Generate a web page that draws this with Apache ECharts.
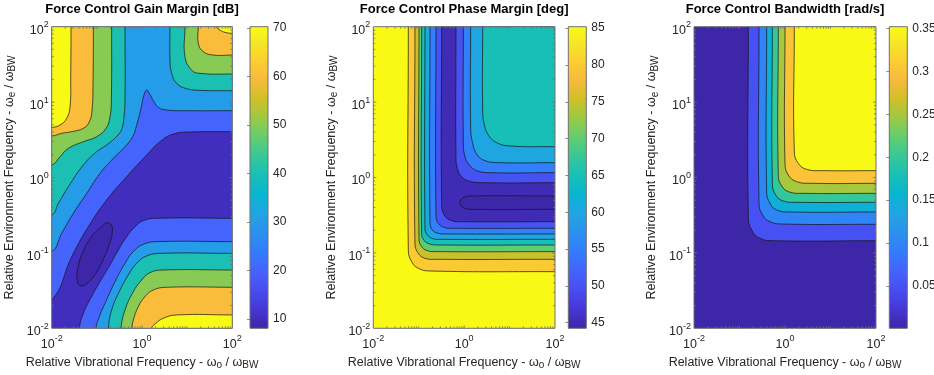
<!DOCTYPE html>
<html>
<head>
<meta charset="utf-8">
<title>Force control margins</title>
<script src="https://cdn.jsdelivr.net/npm/echarts@6.0.0/dist/echarts.min.js"></script>
<style>
  html, body { margin: 0; padding: 0; background: #fff; }
  #chart-container { width: 934px; height: 375px; }
</style>
</head>
<body>
<div id="chart-container"></div>
<script>
var dom = document.getElementById('chart-container');
var myChart = echarts.init(dom, null, { renderer: 'canvas' });

// contour lines, points are [log10(wo/wBW), log10(we/wBW)]

// Force Control Gain Margin [dB]
var gmRange = [8.1, 70.3];
var gmTicks = [10, 20, 30, 40, 50, 60, 70];
var gmBase = 10;
var gmL10 = [[-0.679, -0.630], [-0.657, -0.718], [-0.716, -0.873], [-0.863, -1.094], [-1.048, -1.293], [-1.232, -1.412], [-1.380, -1.434], [-1.439, -1.359], [-1.417, -1.182], [-1.306, -0.983], [-1.122, -0.785], [-0.900, -0.652], [-0.768, -0.599]];
var gmL20a = [[2, 0.608], [1.063, 0.603], [0.694, 0.577], [0.399, 0.475], [0.103, 0.298], [-0.339, 0.011], [-0.782, -0.298], [-1.188, -0.652], [-1.557, -1.050], [-2, -1.624]];
var gmL20b = [[2, -0.541], [0.325, -0.541], [0.030, -0.572], [-0.155, -0.652], [-0.339, -0.785], [-0.524, -0.961], [-0.708, -1.160], [-0.930, -1.381], [-1.137, -1.602], [-1.299, -1.801], [-1.387, -2]];
var gmL30a = [[2, 0.886], [0.989, 0.886], [0.546, 0.895], [0.362, 0.930], [0.251, 1.019], [0.162, 1.116], [0.103, 1.160], [0.044, 1.094], [-0.030, 0.895], [-0.118, 0.696], [-0.207, 0.541], [-0.376, 0.409], [-0.635, 0.254], [-0.930, 0.055], [-1.225, -0.210], [-1.520, -0.475], [-1.779, -0.740], [-2, -0.983]];
var gmL30b = [[2, -0.851], [0.325, -0.851], [0.030, -0.886], [-0.192, -0.983], [-0.376, -1.138], [-0.598, -1.381], [-0.819, -1.668], [-0.930, -1.823], [-1.018, -2]];
var gmL40a = [[-0.376, 2], [-0.376, 1.028], [-0.399, 0.807], [-0.443, 0.652], [-0.531, 0.564], [-0.782, 0.431], [-1.004, 0.343], [-1.299, 0.166], [-1.631, -0.122], [-1.852, -0.343], [-2, -0.497]];
var gmL40b = [[0.620, 2], [0.620, 1.558], [0.657, 1.381], [0.768, 1.249], [0.989, 1.178], [1.284, 1.156], [2, 1.151]];
var gmL40c = [[2, -1.006], [0.399, -1.006], [0.103, -1.041], [-0.118, -1.138], [-0.303, -1.293], [-0.487, -1.492], [-0.672, -1.757], [-0.745, -2]];
var gmL50a = [[-0.672, 2], [-0.679, 1.028], [-0.708, 0.807], [-0.797, 0.652], [-1.004, 0.541], [-1.299, 0.475], [-1.631, 0.387], [-1.815, 0.276], [-2, 0.166]];
var gmL50b = [[0.952, 2], [0.952, 1.602], [1.100, 1.425], [1.284, 1.381], [2, 1.372]];
var gmL50c = [[2, -1.227], [0.472, -1.227], [0.177, -1.262], [-0.007, -1.359], [-0.192, -1.514], [-0.376, -1.757], [-0.465, -2]];
var gmL60a = [[-1.077, 2], [-1.085, 1.249], [-1.107, 0.895], [-1.166, 0.740], [-1.299, 0.652], [-1.557, 0.608], [-1.779, 0.586], [-2, 0.550]];
var gmL60b = [[1.247, 2], [1.247, 1.779], [1.358, 1.669], [1.579, 1.624], [2, 1.624]];
var gmL60c = [[2, -1.456], [0.546, -1.456], [0.251, -1.492], [0.066, -1.580], [-0.081, -1.713], [-0.192, -1.890], [-0.221, -2]];
var gmL70a = [[-1.572, 2], [-1.579, 1.337], [-1.594, 0.939], [-1.668, 0.785], [-1.815, 0.696], [-2, 0.665]];
var gmL70b = [[1.653, 2], [1.727, 1.956], [1.838, 1.925], [2, 1.912]];
var gmL70c = [[2, -1.823], [0.768, -1.823], [0.472, -1.867], [0.288, -1.943], [0.214, -2]];

// Force Control Phase Margin [deg]
var pmRange = [44.24, 85.2];
var pmTicks = [45, 50, 55, 60, 65, 70, 75, 80, 85];
var pmBase = 85;
var pmL85 = [[-1.229, 2], [-1.229, -0.961], [-1.156, -1.116], [-1.009, -1.204], [-0.752, -1.240], [2, -1.249]];
var pmL80 = [[-1.083, 2], [-1.083, -0.873], [-1.009, -1.006], [-0.862, -1.072], [-0.606, -1.085], [2, -1.085]];
var pmL75 = [[-0.994, 2], [-0.994, -0.807], [-0.936, -0.917], [-0.811, -0.970], [-0.606, -0.983], [2, -0.983]];
var pmL70 = [[-0.936, 2], [-0.936, -0.740], [-0.877, -0.838], [-0.752, -0.882], [-0.569, -0.895], [2, -0.895]];
var pmL65a = [[-0.862, 2], [-0.862, -0.674], [-0.811, -0.762], [-0.694, -0.811], [-0.532, -0.820], [2, -0.820]];
var pmL60a = [[-0.752, 2], [-0.752, -0.586], [-0.701, -0.696], [-0.569, -0.740], [-0.385, -0.749], [2, -0.749]];
var pmL55a = [[-0.620, 2], [-0.620, -0.497], [-0.569, -0.608], [-0.422, -0.665], [-0.239, -0.674], [2, -0.674]];
var pmL50a = [[-0.495, 2], [-0.495, -0.343], [-0.437, -0.497], [-0.275, -0.572], [-0.018, -0.586], [2, -0.586]];
var pmL50b = [[-0.180, 2], [-0.180, 0.276], [-0.150, 0.122], [-0.055, 0.011], [0.128, -0.051], [0.422, -0.069], [2, -0.069]];
var pmL55b = [[-0.018, 2], [-0.018, 0.453], [0.018, 0.276], [0.114, 0.166], [0.275, 0.091], [0.569, 0.064], [2, 0.064]];
var pmL60b = [[0.143, 2], [0.143, 0.674], [0.187, 0.453], [0.290, 0.298], [0.459, 0.223], [0.752, 0.197], [2, 0.197]];
var pmL65b = [[0.407, 2], [0.407, 0.895], [0.437, 0.718], [0.532, 0.564], [0.716, 0.462], [1.009, 0.418], [2, 0.409]];
var pmL45 = [[2, -0.245], [0.128, -0.245], [-0.004, -0.263], [-0.077, -0.298], [-0.092, -0.334], [-0.077, -0.369], [-0.004, -0.404], [0.128, -0.422], [2, -0.422]];

// Force Control Bandwidth [rad/s]
var bwRange = [0.0008, 0.352];
var bwTicks = [0.05, 0.1, 0.15, 0.2, 0.25, 0.3, 0.35];
var bwBase = 0.0008;
var bwL05 = [[-0.806, 2], [-0.806, -0.519], [-0.733, -0.696], [-0.549, -0.807], [-0.256, -0.838], [2, -0.838]];
var bwL10 = [[-0.571, 2], [-0.571, -0.343], [-0.491, -0.497], [-0.330, -0.586], [-0.037, -0.617], [2, -0.621]];
var bwL15 = [[-0.403, 2], [-0.403, -0.188], [-0.330, -0.343], [-0.183, -0.431], [0.110, -0.457], [2, -0.457]];
var bwL20 = [[-0.278, 2], [-0.278, -0.077], [-0.205, -0.232], [-0.037, -0.312], [0.256, -0.329], [2, -0.329]];
var bwL25 = [[-0.147, 2], [-0.147, 0.033], [-0.073, -0.113], [0.095, -0.192], [0.403, -0.210], [2, -0.210]];
var bwL30 = [[0, 2], [0, 0.188], [0.073, 0.033], [0.256, -0.055], [0.586, -0.077], [2, -0.077]];
var bwL35 = [[0.205, 2], [0.205, 0.343], [0.293, 0.188], [0.476, 0.108], [0.842, 0.091], [2, 0.091]];

// filled regions in painting order: [colour level, contour line, plot corners that close it]
var gmFill = [
  [20, gmL20a, ['tl', 'tr']], [20, gmL20b, ['br']],
  [30, gmL30a, ['tl', 'tr']], [30, gmL30b, ['br']],
  [40, gmL40a, ['tl']], [40, gmL40b, ['tr']], [40, gmL40c, ['br']],
  [50, gmL50a, ['tl']], [50, gmL50b, ['tr']], [50, gmL50c, ['br']],
  [60, gmL60a, ['tl']], [60, gmL60b, ['tr']], [60, gmL60c, ['br']],
  [70, gmL70a, ['tl']], [70, gmL70b, ['tr']], [70, gmL70c, ['br']],
  [8.1, gmL10, null]
];
var pmFill = [
  [80, pmL85, ['tr']], [75, pmL80, ['tr']], [70, pmL75, ['tr']], [65, pmL70, ['tr']],
  [60, pmL65a, ['tr']], [55, pmL60a, ['tr']], [50, pmL55a, ['tr']], [45, pmL50a, ['tr']],
  [50, pmL50b, ['tr']], [55, pmL55b, ['tr']], [60, pmL60b, ['tr']], [65, pmL65b, ['tr']],
  [44.24, pmL45, []]
];
var bwFill = [
  [0.05, bwL05, ['tr']], [0.1, bwL10, ['tr']], [0.15, bwL15, ['tr']], [0.2, bwL20, ['tr']],
  [0.25, bwL25, ['tr']], [0.3, bwL30, ['tr']], [0.35, bwL35, ['tr']]
];

var FF = '"Liberation Sans", Arial, Helvetica, sans-serif';
var TXT = '#262626';
var FRAME = '#707070';
var EXT = 20;
var SMOOTH = 0.45;
var TOP = 26.7, HEIGHT = 301.6, CBW = 18;

// parula colormap, every 4th of the 64 rows
var parula = [
  [0.2422, 0.1504, 0.6603], [0.2706, 0.2147, 0.8364], [0.2813, 0.3006, 0.9414], [0.2699, 0.3892, 0.9906],
  [0.1963, 0.4847, 0.9892], [0.1687, 0.5703, 0.9359], [0.1248, 0.6459, 0.8883], [0.0297, 0.7082, 0.8163],
  [0.0964, 0.7500, 0.7120], [0.2161, 0.7843, 0.5923], [0.3909, 0.8029, 0.4354], [0.6174, 0.7876, 0.2612],
  [0.8203, 0.7498, 0.1535], [0.9728, 0.7298, 0.2394], [0.9892, 0.8136, 0.1885], [0.9597, 0.9135, 0.1423],
  [0.9769, 0.9839, 0.0805]
];
var parulaRow = [0, 4, 8, 12, 16, 20, 24, 28, 32, 36, 40, 44, 48, 52, 56, 60, 63];

function rgb(c) {
  return 'rgb(' + Math.round(c[0] * 255) + ',' + Math.round(c[1] * 255) + ',' + Math.round(c[2] * 255) + ')';
}
function parulaAt(t) {
  t = Math.max(0, Math.min(1, t)) * 63;
  for (var i = 1; i < parulaRow.length; i++) {
    if (t <= parulaRow[i]) {
      var f = (t - parulaRow[i - 1]) / (parulaRow[i] - parulaRow[i - 1]);
      var a = parula[i - 1], b = parula[i];
      return rgb([a[0] + (b[0] - a[0]) * f, a[1] + (b[1] - a[1]) * f, a[2] + (b[2] - a[2]) * f]);
    }
  }
  return rgb(parula[parula.length - 1]);
}
var gradStops = parula.map(function (c, i) { return { offset: parulaRow[i] / 63, color: rgb(c) }; });

var panels = [
  { title: 'Force Control Gain Margin [dB]', left: 51.7, width: 180.6, cbLeft: 250, range: gmRange, ticks: gmTicks, base: gmBase, fill: gmFill },
  { title: 'Force Control Phase Margin [deg]', left: 373.3, width: 181.7, cbLeft: 568.3, range: pmRange, ticks: pmTicks, base: pmBase, fill: pmFill },
  { title: 'Force Control Bandwidth [rad/s]', left: 694, width: 182, cbLeft: 889.3, range: bwRange, ticks: bwTicks, base: bwBase, fill: bwFill }
];

function colorOf(p, v) { return parulaAt((v - p.range[0]) / (p.range[1] - p.range[0])); }
function clipOf(cs) { return { type: 'rect', shape: { x: cs.x, y: cs.y, width: cs.width, height: cs.height } }; }
function corner(cs, c) {
  return [c.charAt(1) === 'l' ? cs.x - EXT : cs.x + cs.width + EXT,
          c.charAt(0) === 't' ? cs.y - EXT : cs.y + cs.height + EXT];
}
function outward(d, p) {
  if (d[1] >= 2) return [p[0], p[1] - EXT];
  if (d[1] <= -2) return [p[0], p[1] + EXT];
  if (d[0] <= -2) return [p[0] - EXT, p[1]];
  return [p[0] + EXT, p[1]];
}
function linePoints(curve, api) {
  var pts = curve.map(function (d) { return api.coord(d); });
  return [outward(curve[0], pts[0])].concat(pts, [outward(curve[curve.length - 1], pts[pts.length - 1])]);
}

function fillRender(p) {
  return function (params, api) {
    var cs = params.coordSys;
    if (params.dataIndex === 0) {
      return { type: 'rect', shape: { x: cs.x, y: cs.y, width: cs.width, height: cs.height }, style: { fill: colorOf(p, p.base) } };
    }
    var r = p.fill[params.dataIndex - 1];
    var pts = r[2]
      ? linePoints(r[1], api).concat(r[2].map(function (c) { return corner(cs, c); }))
      : r[1].map(function (d) { return api.coord(d); });
    return { type: 'polygon', shape: { points: pts, smooth: SMOOTH }, style: { fill: colorOf(p, r[0]) }, clipPath: clipOf(cs) };
  };
}
function lineRender(p) {
  return function (params, api) {
    var cs = params.coordSys;
    var r = p.fill[params.dataIndex];
    var st = { fill: null, stroke: '#141414', lineWidth: 0.7 };
    if (r[2]) {
      return { type: 'polyline', shape: { points: linePoints(r[1], api), smooth: SMOOTH }, style: st, clipPath: clipOf(cs) };
    }
    return { type: 'polygon', shape: { points: r[1].map(function (d) { return api.coord(d); }), smooth: SMOOTH }, style: st };
  };
}

// axis frame: box, decade ticks and log minor ticks on all four sides
var minorPos = [];
[-2, -1, 0, 1].forEach(function (n) { for (var k = 2; k <= 9; k++) minorPos.push(n + Math.log10(k)); });
var frameTicks = [['box']];
[0].forEach(function (v) { frameTicks.push(['x', v, 3]); });
[-1, 1].concat(minorPos).forEach(function (v) { frameTicks.push(['x', v, 2]); });
[-1, 0, 1].forEach(function (v) { frameTicks.push(['y', v, 3]); });
minorPos.forEach(function (v) { frameTicks.push(['y', v, 2]); });

function frameRender(params, api) {
  var cs = params.coordSys;
  var t = frameTicks[params.dataIndex];
  var st = { stroke: FRAME, lineWidth: 0.8 };
  if (t[0] === 'box') {
    return { type: 'rect', shape: { x: cs.x, y: cs.y, width: cs.width, height: cs.height }, style: { fill: null, stroke: FRAME, lineWidth: 1 } };
  }
  var a, b;
  if (t[0] === 'x') {
    a = api.coord([t[1], -2]); b = api.coord([t[1], 2]);
    return { type: 'group', children: [
      { type: 'line', shape: { x1: a[0], y1: a[1], x2: a[0], y2: a[1] - t[2] }, style: st },
      { type: 'line', shape: { x1: b[0], y1: b[1], x2: b[0], y2: b[1] + t[2] }, style: st }
    ] };
  }
  a = api.coord([-2, t[1]]); b = api.coord([2, t[1]]);
  return { type: 'group', children: [
    { type: 'line', shape: { x1: a[0], y1: a[1], x2: a[0] + t[2], y2: a[1] }, style: st },
    { type: 'line', shape: { x1: b[0], y1: b[1], x2: b[0] - t[2], y2: b[1] }, style: st }
  ] };
}
function cbRender(p) {
  return function (params, api) {
    var a = api.coord([0, p.range[1]]), b = api.coord([1, p.range[0]]);
    var shape = { x: a[0], y: a[1], width: b[0] - a[0], height: b[1] - a[1] };
    return { type: 'group', children: [
      { type: 'rect', shape: shape, style: { fill: { type: 'linear', x: 0, y: 1, x2: 0, y2: 0, colorStops: gradStops } } },
      { type: 'rect', shape: shape, style: { fill: null, stroke: FRAME, lineWidth: 1 } }
    ] };
  };
}

var powRich = {
  b: { fontSize: 12.5, lineHeight: 20, color: TXT, fontFamily: FF },
  s: { fontSize: 9, lineHeight: 13, verticalAlign: 'top', color: TXT, fontFamily: FF }
};
function pow(v) { return '{b|10}{s|' + v + '}'; }
var nameRich = {
  t: { fontSize: 12.5, lineHeight: 14, padding: [0, 0, 2, 0], color: TXT, fontFamily: FF },
  u: { fontSize: 10, lineHeight: 10, verticalAlign: 'bottom', color: TXT, fontFamily: FF }
};
var xName = '{t|Relative Vibrational Frequency - ω}{u|o}{t| / ω}{u|BW}';
var yName = '{t|Relative Environment Frequency - ω}{u|e}{t| / ω}{u|BW}';

var grid = [], xAxis = [], yAxis = [], series = [], graphic = [];
panels.forEach(function (p, i) {
  var g = 2 * i, c = 2 * i + 1;
  grid.push({ left: p.left, top: TOP, width: p.width, height: HEIGHT, outerBoundsMode: 'none' });
  grid.push({ left: p.cbLeft, top: TOP, width: CBW, height: HEIGHT, outerBoundsMode: 'none' });
  xAxis.push({
    gridIndex: g, type: 'value', min: -2, max: 2, interval: 2, z: 10,
    axisLine: { show: false }, axisTick: { show: false }, splitLine: { show: false },
    axisLabel: { margin: 6, formatter: pow, rich: powRich },
    name: xName, nameLocation: 'middle', nameGap: 25, nameTextStyle: { rich: nameRich }
  });
  xAxis.push({ gridIndex: c, type: 'value', min: 0, max: 1, show: false });
  yAxis.push({
    gridIndex: g, type: 'value', min: -2, max: 2, interval: 1, z: 10,
    axisLine: { show: false }, axisTick: { show: false }, splitLine: { show: false },
    axisLabel: { margin: 3, padding: [7, 0, 0, 0], formatter: pow, rich: powRich },
    name: yName, nameLocation: 'middle', nameGap: 34, nameTextStyle: { rich: nameRich }
  });
  yAxis.push({
    gridIndex: c, type: 'value', min: p.range[0], max: p.range[1], position: 'right', z: 10,
    axisLine: { show: false }, splitLine: { show: false },
    axisTick: { show: true, inside: true, length: 3, customValues: p.ticks, lineStyle: { color: FRAME, width: 0.8 } },
    axisLabel: { customValues: p.ticks, margin: 5, fontSize: 12, color: TXT, fontFamily: FF }
  });
  series.push({
    type: 'custom', xAxisIndex: g, yAxisIndex: g, silent: true, z: 2,
    data: [[0, 0]].concat(p.fill.map(function () { return [0, 0]; })), renderItem: fillRender(p)
  });
  series.push({
    type: 'custom', xAxisIndex: g, yAxisIndex: g, silent: true, z: 3,
    data: p.fill.map(function () { return [0, 0]; }), renderItem: lineRender(p)
  });
  series.push({
    type: 'custom', xAxisIndex: g, yAxisIndex: g, silent: true, z: 4,
    data: frameTicks.map(function () { return [0, 0]; }), renderItem: frameRender
  });
  series.push({
    type: 'custom', xAxisIndex: c, yAxisIndex: c, silent: true, z: 2,
    data: [[0, 0]], renderItem: cbRender(p)
  });
  graphic.push({
    type: 'text', x: p.left + p.width / 2, y: 9,
    style: { text: p.title, align: 'center', verticalAlign: 'middle', fontFamily: FF, fontSize: 13, fontWeight: 'bold', fill: '#000' }
  });
});

var option = {
  animation: false,
  backgroundColor: '#fff',
  grid: grid,
  xAxis: xAxis,
  yAxis: yAxis,
  series: series,
  graphic: graphic
};
myChart.setOption(option);

window.addEventListener('resize', myChart.resize);
</script>
</body>
</html>
